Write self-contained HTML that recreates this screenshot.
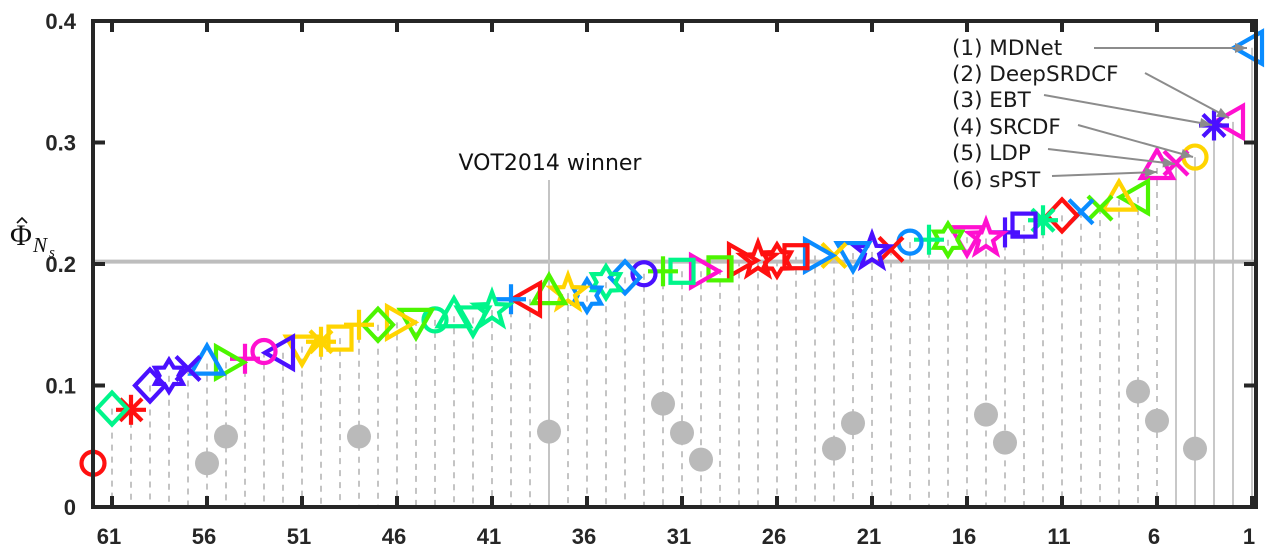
<!DOCTYPE html>
<html><head><meta charset="utf-8"><style>
html,body{margin:0;padding:0;background:#fff;}
svg{display:block;}
</style></head><body>
<svg id="chart" width="1273" height="556" viewBox="0 0 1273 556" xmlns="http://www.w3.org/2000/svg">
<g id="grid"></g>
<g id="ref"></g>
<g id="gray"></g>
<g id="marks"></g>
<g id="axes"></g>
<g id="legend"></g>
</svg>
<script>
const ranks = [1,2,3,4,5,6,7,8,9,10,11,12,13,14,15,16,17,18,19,20,21,22,23,24,25,26,27,28,29,30,31,32,33,34,35,36,37,38,39,40,41,42,43,44,45,46,47,48,49,50,51,52,53,54,55,56,57,58,59,60,61,62];
const eaoValues = [0.378,0.317,0.314,0.288,0.283,0.279,0.255,0.253,0.246,0.243,0.240,0.236,0.232,0.226,0.221,0.222,0.220,0.220,0.218,0.212,0.210,0.209,0.207,0.207,0.206,0.203,0.203,0.203,0.196,0.194,0.194,0.194,0.192,0.189,0.185,0.174,0.176,0.176,0.171,0.171,0.162,0.156,0.157,0.154,0.154,0.152,0.150,0.150,0.139,0.136,0.132,0.127,0.128,0.122,0.119,0.118,0.114,0.108,0.100,0.080,0.081,0.036];
const shapes = ['ltri','ltri','ast','circ','x','utri','ltri','utri','x','x','diam','ast','sq','plus','pent','dtri','hex','plus','circ','x','pent','dtri','x','rtri','sq','hex','pent','rtri','sq','rtri','sq','plus','circ','diam','hex','hex','pent','utri','ltri','plus','pent','dtri','utri','circ','dtri','rtri','diam','plus','sq','ast','dtri','ltri','circ','plus','rtri','utri','x','hex','diam','ast','diam','circ'];
const colors = ['b','m','p','y','m','m','g','y','g','b','r','t','p','p','m','m','g','t','b','r','p','b','y','b','r','r','r','r','g','m','t','g','p','b','t','b','y','g','r','b','t','t','t','t','g','y','g','y','y','y','y','p','m','m','g','b','p','p','p','r','t','r'];
const grayRanks = [56,55,48,38,32,31,30,23,22,15,14,7,6,4];
const grayValues = [0.036,0.058,0.058,0.062,0.085,0.061,0.039,0.048,0.069,0.076,0.053,0.095,0.071,0.048];
const yTicks = [0,0.1,0.2,0.3,0.4];
const yTickLabels = ['0','0.1','0.2','0.3','0.4'];
const xTicks = [61,56,51,46,41,36,31,26,21,16,11,6,1];
const legendNames = ['(1) MDNet','(2) DeepSRDCF','(3) EBT','(4) SRCDF','(5) LDP','(6) sPST'];
const winnerRank = 38;
const threshold = 0.202;

const palette = {r:'#ff1010',g:'#4cf500',t:'#00f58a',b:'#0a8cff',p:'#4a10ff',m:'#ff10d0',y:'#ffd400'};
const L=93,R=1256,T=21,B=507;
function X(r){return 1252-(r-1)*19;}
function Y(v){return B-v*1215;}
const NS='http://www.w3.org/2000/svg';
function mk(tag,attrs,parent){const e=document.createElementNS(NS,tag);for(const k in attrs)e.setAttribute(k,attrs[k]);parent.appendChild(e);return e;}

const grid=document.getElementById('grid');
ranks.forEach((r,i)=>{
  const solid=r<=5;
  const ln=mk('line',{x1:X(r),x2:X(r),y1:Y(eaoValues[i]),y2:B,stroke:solid?'#c8c8c8':'#c4c4c4','stroke-width':2,'stroke-dasharray':solid?'none':'6,6'},grid);
  
  
});
const ref=document.getElementById('ref');
const th=mk('line',{x1:L,x2:R,y1:Y(threshold),y2:Y(threshold),stroke:'#bdbdbd','stroke-width':4},ref);


const wl=mk('line',{x1:X(winnerRank),x2:X(winnerRank),y1:180,y2:B,stroke:'#c4c4c4','stroke-width':2},ref);


const wt=mk('text',{x:550,y:170,'text-anchor':'middle','font-family':'DejaVu Sans, sans-serif','font-size':22,fill:'#111'},ref);
wt.textContent='VOT2014 winner';



const gray=document.getElementById('gray');
grayRanks.forEach((r,i)=>{
  const c=mk('circle',{cx:X(r),cy:Y(grayValues[i]),r:12,fill:'#bababa'},gray);
  
  
});

function star(cx,cy,n,ro,ri){let p=[];for(let k=0;k<2*n;k++){const a=-Math.PI/2+k*Math.PI/n;const rr=k%2?ri:ro;p.push((cx+rr*Math.cos(a)).toFixed(1)+','+(cy+rr*Math.sin(a)).toFixed(1));}return p.join(' ');}
const marks=document.getElementById('marks');
ranks.forEach((r,i)=>{
  const cx=X(r),cy=Y(eaoValues[i]),c=palette[colors[i]],s=shapes[i];
  const g=mk('g',{fill:'none',stroke:c,'stroke-width':4.2,'stroke-linejoin':'miter'},marks);
  
  
  const h=15;
  if(s==='circ')mk('circle',{cx,cy,r:11.5},g);
  else if(s==='sq')mk('rect',{x:cx-11.5,y:cy-11.5,width:23,height:23},g);
  else if(s==='diam')mk('polygon',{points:`${cx},${cy-16} ${cx+15},${cy} ${cx},${cy+16} ${cx-15},${cy}`},g);
  else if(s==='utri')mk('polygon',{points:`${cx},${cy-18} ${cx+16},${cy+10} ${cx-16},${cy+10}`},g);
  else if(s==='dtri')mk('polygon',{points:`${cx},${cy+18} ${cx+16},${cy-10} ${cx-16},${cy-10}`},g);
  else if(s==='ltri')mk('polygon',{points:`${cx-18},${cy} ${cx+10},${cy-16} ${cx+10},${cy+16}`},g);
  else if(s==='rtri')mk('polygon',{points:`${cx+18},${cy} ${cx-10},${cy-16} ${cx-10},${cy+16}`},g);
  else if(s==='plus'){mk('line',{x1:cx-h,x2:cx+h,y1:cy,y2:cy},g);mk('line',{x1:cx,x2:cx,y1:cy-h,y2:cy+h},g);}
  else if(s==='x'){mk('line',{x1:cx-12,x2:cx+12,y1:cy-12,y2:cy+12},g);mk('line',{x1:cx-12,x2:cx+12,y1:cy+12,y2:cy-12},g);}
  else if(s==='ast'){mk('line',{x1:cx-h,x2:cx+h,y1:cy,y2:cy},g);mk('line',{x1:cx,x2:cx,y1:cy-h,y2:cy+h},g);mk('line',{x1:cx-11,x2:cx+11,y1:cy-11,y2:cy+11},g);mk('line',{x1:cx-11,x2:cx+11,y1:cy+11,y2:cy-11},g);}
  else if(s==='pent')mk('polygon',{points:star(cx,cy,5,18,7.5)},g);
  else if(s==='hex')mk('polygon',{points:star(cx,cy,6,16,9.5)},g);
});

const axes=document.getElementById('axes');
const box=mk('rect',{x:L,y:T,width:R-L,height:B-T,fill:'none',stroke:'#262626','stroke-width':4},axes);


yTicks.forEach((v,i)=>{
  if(v>0&&v<0.4){
    const t1=mk('line',{x1:L,x2:L+12,y1:Y(v),y2:Y(v),stroke:'#262626','stroke-width':4},axes);
    
    
    const t2=mk('line',{x1:R-12,x2:R,y1:Y(v),y2:Y(v),stroke:'#262626','stroke-width':4},axes);
    
    
  }
  const tl=mk('text',{x:76,y:Y(v)+8,'text-anchor':'end','font-family':'Liberation Sans, sans-serif','font-weight':'bold','font-size':22,fill:'#262626'},axes);
  tl.textContent=yTickLabels[i];
  
  
});
xTicks.forEach(r=>{
  const t1=mk('line',{x1:X(r),x2:X(r),y1:B,y2:B-11,stroke:'#262626','stroke-width':4},axes);
  
  
  const t2=mk('line',{x1:X(r),x2:X(r),y1:T,y2:T+11,stroke:'#262626','stroke-width':4},axes);
  
  
  const tl=mk('text',{x:X(r)-3,y:544,'text-anchor':'middle','font-family':'Liberation Sans, sans-serif','font-weight':'bold','font-size':22,fill:'#262626'},axes);
  tl.textContent=String(r);
  
  
});
const yl=mk('text',{x:10,y:245,'font-family':'Liberation Serif, serif','font-size':30,fill:'#111'},axes);
yl.textContent='Φ';


const ylN=mk('text',{x:33,y:252,'font-family':'Liberation Serif, serif','font-style':'italic','font-size':21,fill:'#111'},axes);
ylN.textContent='N';


const ylS=mk('text',{x:49,y:257,'font-family':'Liberation Serif, serif','font-style':'italic','font-size':15,fill:'#111'},axes);
ylS.textContent='s';


const hat=mk('path',{d:'M17 223 L22 218 L27 223',fill:'none',stroke:'#111','stroke-width':1.6},axes);



const legend=document.getElementById('legend');
const ly=[55,81,107,134,160,187];
const lstart=[[1094,48],[1145,73],[1044,95],[1078,125],[1048,149],[1052,176]];
const lend=[[1247,48],[1229,118],[1212,125],[1193,157],[1175,164],[1157,172]];
legendNames.forEach((n,i)=>{
  const t=mk('text',{x:952,y:ly[i],'font-family':'DejaVu Sans, sans-serif','font-size':21.5,fill:'#1a1a1a'},legend);
  t.textContent=n;
  
  
  const [x1,y1]=lstart[i],[x2,y2]=lend[i];
  const ln=mk('line',{x1,y1,x2,y2,stroke:'#8c8c8c','stroke-width':2},legend);
  
  
  const a=Math.atan2(y2-y1,x2-x1),al=12,aw=5;
  const bx=x2-al*Math.cos(a),by=y2-al*Math.sin(a);
  const hd=mk('polygon',{points:`${x2},${y2} ${bx-aw*Math.sin(a)},${by+aw*Math.cos(a)} ${bx+aw*Math.sin(a)},${by-aw*Math.cos(a)}`,fill:'#8c8c8c'},legend);
  
  
});
</script>
</body></html>
